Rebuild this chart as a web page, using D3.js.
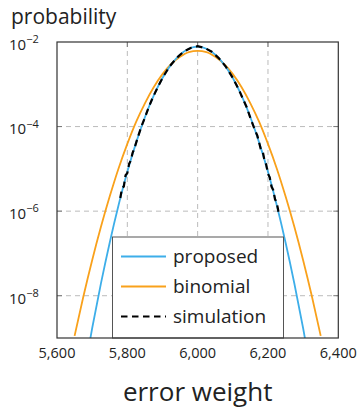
<!DOCTYPE html>
<meta charset="utf-8">
<style>
  body { margin: 0; background: #fff; }
  text { font-family: "Open Sans", sans-serif; fill: #222; }
  .grid line { stroke: #bbb; stroke-dasharray: 5 4; stroke-width: 1; }
</style>
<body>
<div id="chart"></div>
<script src="https://cdn.jsdelivr.net/npm/d3@7"></script>
<script>
// values (log10 of probability)
var weights = [5650, 5675, 5700, 5725, 5750, 5775, 5800, 5825, 5850, 5875, 5900, 5925, 5950, 5975,
               6000, 6025, 6050, 6075, 6100, 6125, 6150, 6175, 6200, 6225, 6250, 6275, 6300, 6325, 6350];
var proposedLog = [-11.2, -9.93, -8.77, -7.71, -6.74, -5.86, -5.07, -4.38, -3.78, -3.27, -2.85, -2.53, -2.30, -2.16,
                   -2.11, -2.16, -2.30, -2.53, -2.85, -3.27, -3.78, -4.38, -5.07, -5.86, -6.74, -7.71, -8.77, -9.93, -11.2];
var binomialLog = [-8.95, -8.02, -7.16, -6.37, -5.65, -4.99, -4.41, -3.89, -3.45, -3.07, -2.76, -2.52, -2.35, -2.24,
                   -2.21, -2.24, -2.35, -2.52, -2.76, -3.07, -3.45, -3.89, -4.41, -4.99, -5.65, -6.37, -7.16, -8.02, -8.95];

var simWeights = [5780, 5785, 5790, 5795, 5800, 5805, 5810, 5815, 5820, 5830, 5840, 5850, 5860, 5870, 5880, 5890,
                  5900, 5920, 5940, 5960, 5980, 6000, 6020, 6040, 6060, 6080, 6100, 6110, 6120, 6130, 6140, 6150,
                  6160, 6170, 6180, 6185, 6190, 6195, 6200, 6205, 6210, 6215, 6220, 6225, 6230];
var simulationLog = [-5.69, -5.45, -5.42, -5.15, -5.10, -4.88, -4.80, -4.62, -4.52, -4.25, -4.00, -3.79, -3.56, -3.36, -3.18, -3.01,
                     -2.85, -2.58, -2.38, -2.23, -2.14, -2.10, -2.14, -2.23, -2.38, -2.58, -2.85, -3.01, -3.18, -3.37, -3.55, -3.80,
                     -4.02, -4.22, -4.55, -4.58, -4.80, -4.90, -5.12, -5.20, -5.42, -5.50, -5.72, -5.80, -6.02];

var xTicks = [5600, 5800, 6000, 6200, 6400];
var yTicks = [-8, -6, -4, -2];
var series = [
  {name: "proposed", color: "#3daee9", dash: null},
  {name: "binomial", color: "#f9a11b", dash: null},
  {name: "simulation", color: "#000", dash: "6.5 4.5"}
];

var width = 360, height = 412;
var margin = {top: 42, right: 22, bottom: 74, left: 57};

var svg = d3.select("#chart").append("svg")
    .attr("width", width)
    .attr("height", height);

var x = d3.scaleLinear().domain([5600, 6400]).range([margin.left, width - margin.right + 0.3]);
var y = d3.scaleLinear().domain([-9, -2]).range([height - margin.bottom, margin.top]);

svg.append("defs").append("clipPath").attr("id", "plot")
  .append("rect")
    .attr("x", x(5600)).attr("y", y(-2))
    .attr("width", x(6400) - x(5600)).attr("height", y(-9) - y(-2));

// grid
var grid = svg.append("g").attr("class", "grid");
grid.selectAll(".gx").data(xTicks.slice(1, -1)).enter().append("line")
    .attr("x1", d => x(d)).attr("x2", d => x(d))
    .attr("y1", y(-2)).attr("y2", y(-9));
grid.selectAll(".gy").data(yTicks.slice(0, -1)).enter().append("line")
    .attr("x1", x(5600)).attr("x2", x(6400))
    .attr("y1", d => y(d)).attr("y2", d => y(d));

// ticks (inward on all sides)
var ticks = svg.append("g").attr("stroke", "#777").attr("stroke-width", 1);
xTicks.slice(1, -1).forEach(function(t) {
  ticks.append("line").attr("x1", x(t)).attr("x2", x(t)).attr("y1", y(-9)).attr("y2", y(-9) - 5);
  ticks.append("line").attr("x1", x(t)).attr("x2", x(t)).attr("y1", y(-2)).attr("y2", y(-2) + 5);
});
yTicks.slice(0, -1).forEach(function(t) {
  ticks.append("line").attr("x1", x(5600)).attr("x2", x(5600) + 5).attr("y1", y(t)).attr("y2", y(t));
  ticks.append("line").attr("x1", x(6400)).attr("x2", x(6400) - 5).attr("y1", y(t)).attr("y2", y(t));
});

var line = d3.line().curve(d3.curveMonotoneX);
var curves = svg.append("g").attr("clip-path", "url(#plot)");

curves.append("path")
    .attr("d", line(weights.map((w, i) => [x(w), y(binomialLog[i])])))
    .attr("fill", "none").attr("stroke", series[1].color).attr("stroke-width", 1.8);
curves.append("path")
    .attr("d", line(weights.map((w, i) => [x(w), y(proposedLog[i])])))
    .attr("fill", "none").attr("stroke", series[0].color).attr("stroke-width", 1.8);
curves.append("path")
    .attr("d", d3.line()(simWeights.map((w, i) => [x(w), y(simulationLog[i])])))
    .attr("fill", "none").attr("stroke", "#000").attr("stroke-width", 2.2)
    .attr("stroke-dasharray", series[2].dash);

// legend
var lg = svg.append("g");
lg.append("rect")
    .attr("x", 112.5).attr("y", 237).attr("width", 171).attr("height", y(-9) - 237)
    .attr("fill", "#fff").attr("stroke", "#555").attr("stroke-width", 1);
series.forEach(function(s, i) {
  var ly = 256.5 + i * 30;
  lg.append("line")
      .attr("x1", 121).attr("x2", 166).attr("y1", ly).attr("y2", ly)
      .attr("stroke", s.color).attr("stroke-width", s.dash ? 2 : 1.8)
      .attr("stroke-dasharray", s.dash);
  lg.append("text")
      .attr("x", 173).attr("y", ly + 6)
      .attr("font-size", 19)
      .text(s.name);
});

// frame
svg.append("rect")
    .attr("x", x(5600)).attr("y", y(-2))
    .attr("width", x(6400) - x(5600)).attr("height", y(-9) - y(-2))
    .attr("fill", "none").attr("stroke", "#333").attr("stroke-width", 1.2);

// tick labels
var fmt = d3.format(",");
svg.selectAll(".xl").data(xTicks).enter().append("text")
    .attr("x", d => x(d)).attr("y", 358)
    .attr("text-anchor", "middle").attr("font-size", 14.5)
    .attr("fill", "#333")
    .text(d => fmt(d));

var yl = svg.selectAll(".yl").data(yTicks).enter().append("text")
    .attr("x", 9).attr("y", d => y(d) + 7.8)
    .attr("font-size", 15);
yl.append("tspan").text("10");
yl.append("tspan").attr("dy", -6.7).attr("font-size", 11).text(d => "\u2212" + (-d));

// axis titles
svg.append("text")
    .attr("x", 11).attr("y", 24)
    .attr("font-size", 21)
    .text("probability");
svg.append("text")
    .attr("x", x(6000)).attr("y", 401)
    .attr("text-anchor", "middle").attr("font-size", 26)
    .text("error weight");
</script>
</body>
